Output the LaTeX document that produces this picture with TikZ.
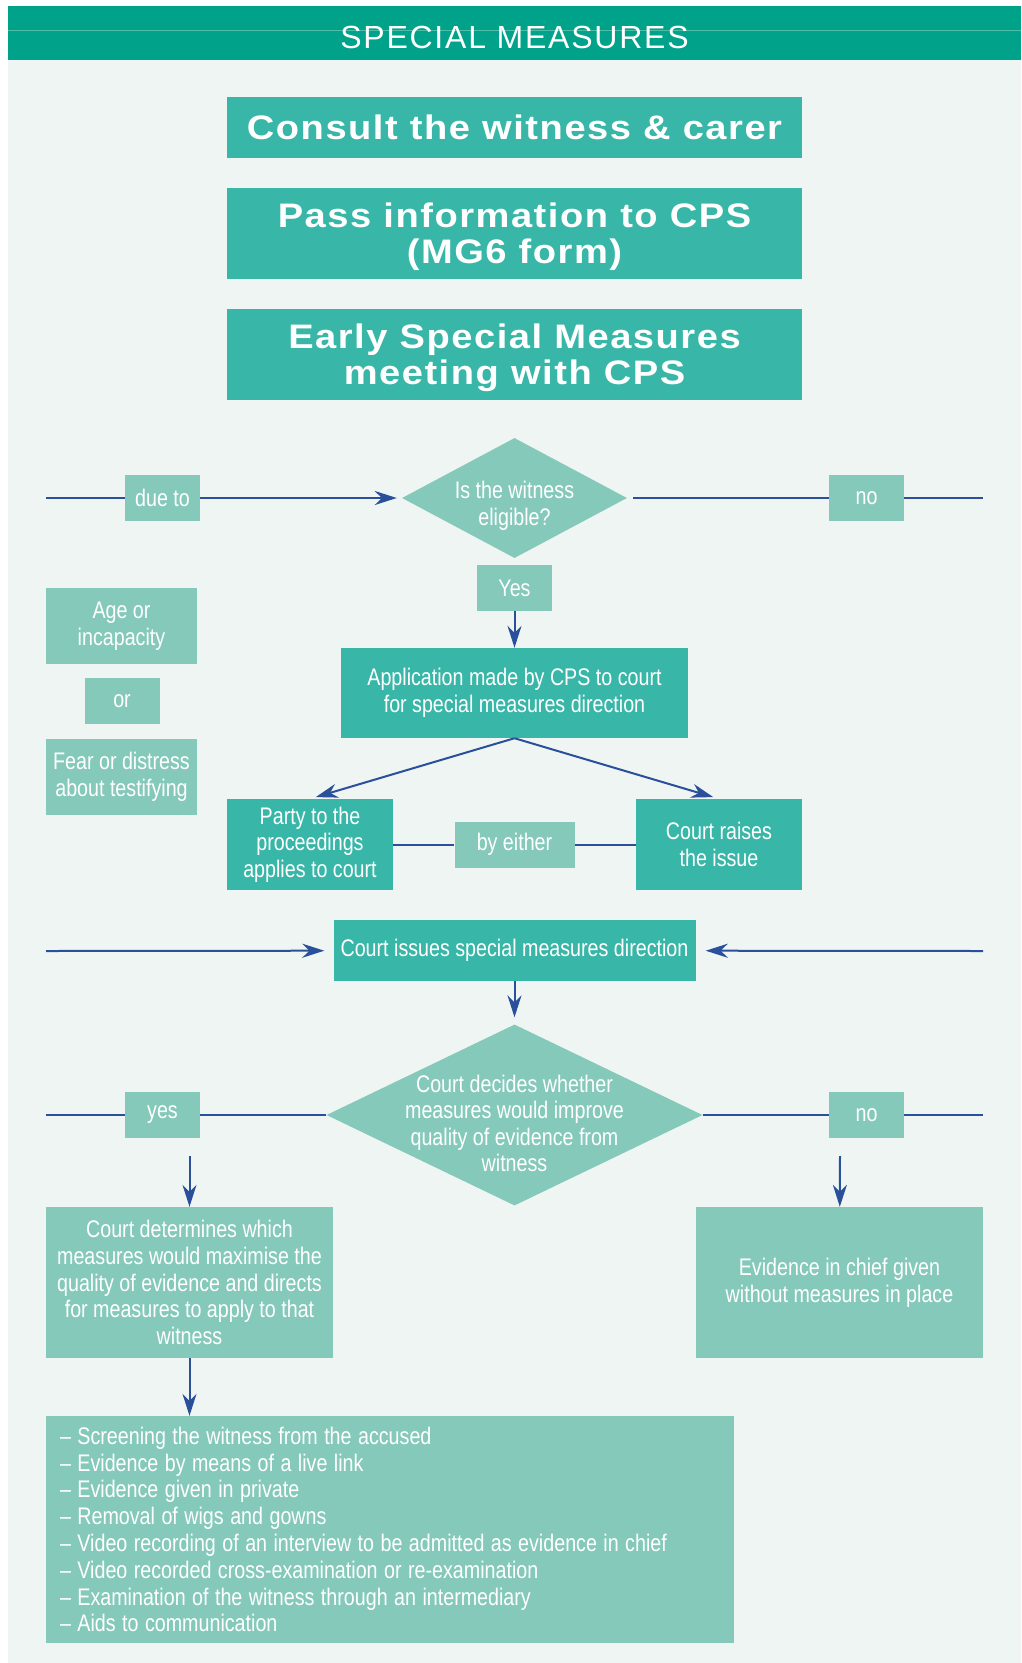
\documentclass[tikz,border=0pt]{standalone}
\usepackage{fontspec}
\setmainfont{Liberation Sans}[FakeStretch=0.82]
\newfontfamily\widefont{Liberation Sans}[FakeStretch=1.12,LetterSpace=4.5]
\newfontfamily\headfont{Liberation Sans}[LetterSpace=5.5]
\usetikzlibrary{arrows.meta, shapes.geometric}

\definecolor{barcol}{HTML}{00A28A}
\definecolor{barline}{HTML}{4DBFA9}
\definecolor{pagebg}{HTML}{EFF5F2}
\definecolor{boxdark}{HTML}{38B6A7}
\definecolor{boxlight}{HTML}{85C9BB}
\definecolor{linecol}{HTML}{2A4F9B}

\tikzset{
  darkbox/.style={fill=boxdark, text=white, align=center, inner sep=2pt,
    font=\fontsize{24}{26.6}\selectfont},
  lightbox/.style={darkbox, fill=boxlight},
  bigbox/.style={darkbox, minimum width=575pt,
    font=\widefont\bfseries\fontsize{34}{34}\selectfont},
  tagbox/.style={lightbox, minimum width=75pt, minimum height=46pt},
  askbox/.style={lightbox, diamond, inner sep=0pt},
  asktext/.style={text=white, align=center, font=\fontsize{24}{26.6}\selectfont},
  wire/.style={draw=linecol, line width=2pt},
  flow/.style={wire, -{Stealth[length=22pt,width=14pt,inset=7pt]}},
}

\begin{document}
\begin{tikzpicture}[x=1pt, y=-1pt]
\useasboundingbox (0,0) rectangle (1021,1663);
% page and heading
\fill[pagebg] (8,6) rectangle (1021,1663);
\fill[barcol] (8,6) rectangle (1021,60);
\draw[barline, line width=1pt] (8,30) -- (1021,30);
\node[text=white, font=\headfont\fontsize{32}{32}\selectfont] (title) at (514.5,37.5) {SPECIAL MEASURES};

% first steps
\node[bigbox, minimum height=61pt] (consult) at (514.5,127.5) {Consult the witness \& carer};
\node[bigbox, minimum height=91pt] (pass) at (514.5,233.5) {\raisebox{-4.5pt}[\height][\depth]{\begin{tabular}{@{}c@{}}Pass information to CPS\\[1pt](MG6 form)\end{tabular}}};
\node[bigbox, minimum height=91pt] (early) at (514.5,354.5) {\raisebox{-4.5pt}[\height][\depth]{\begin{tabular}{@{}c@{}}Early Special Measures\\[1pt]meeting with CPS\end{tabular}}};

% eligibility
\node[askbox, minimum width=225pt, minimum height=120pt] (elig) at (514.5,498) {};
\node[asktext] (eligtext) at (514.5,505.5) {Is the witness\\eligible?};
\node[tagbox] (dueto) at (162.5,498) {due to};
\node[tagbox] (noA) at (866.5,498) {no};
\node[tagbox] (yesA) at (514.5,588) {Yes};
\node[lightbox, minimum width=151pt, minimum height=76pt] (age) at (121.5,626) {Age or\\incapacity};
\node[tagbox] (or) at (122,701) {or};
\node[lightbox, minimum width=151pt, minimum height=76pt] (fear) at (121.5,777) {Fear or distress\\about testifying};
\coordinate (dueL) at (46,498);
\coordinate (noAR) at (983,498);
\draw[wire] (dueL) -- (dueto);
\draw[flow, shorten >=5pt] (dueto) -- (elig);
\draw[wire, shorten <=6pt] (elig) -- (noA);
\draw[wire] (noA) -- (noAR);

% application
\node[darkbox, minimum width=347pt, minimum height=90pt] (app) at (514.5,693) {Application made by CPS to court\\for special measures direction};
\node[darkbox, minimum width=166pt, minimum height=91pt] (party) at (310,844.5) {Party to the\\proceedings\\applies to court};
\node[darkbox, minimum width=166pt, minimum height=91pt] (raises) at (719,844.5) {Court raises\\the issue};
\node[lightbox, minimum width=120pt, minimum height=46pt] (byeither) at (514.5,844.5) {by either};
\draw[flow] (yesA) -- (app);
\draw[flow, shorten >=6pt] (app.south) -- (party.north);
\draw[flow, shorten >=6pt] (app.south) -- (raises.north);
\draw[wire] (party) -- (byeither) -- (raises);

% direction and decision
\node[darkbox, minimum width=362pt, minimum height=61pt] (issues) at (514.5,950.5) {Court issues special measures direction};
\node[askbox, minimum width=376pt, minimum height=181pt] (decide) at (514.5,1115) {};
\node[asktext] (decidetext) at (514.5,1123.5) {Court decides whether\\measures would improve\\quality of evidence from\\witness};
\node[tagbox] (yesB) at (162.5,1115) {yes};
\node[tagbox] (noB) at (866.5,1115) {no};
\coordinate (issL) at (46,951);
\coordinate (issR) at (983,951);
\coordinate (yesBL) at (46,1115);
\coordinate (noBR) at (983,1115);
\draw[flow, shorten >=9pt] (issL) -- (issues);
\draw[flow, shorten >=10pt] (issR) -- (issues);
\draw[flow, shorten >=7pt] (issues) -- (decide);
\draw[wire] (yesBL) -- (yesB) -- (decide);
\draw[wire] (decide) -- (noB) -- (noBR);

% outcomes
\node[lightbox, minimum width=287pt, minimum height=151pt] (determine) at (189.5,1282.5) {Court determines which\\measures would maximise the\\quality of evidence and directs\\for measures to apply to that\\witness};
\node[lightbox, minimum width=287pt, minimum height=151pt] (chief) at (839.5,1282.5) {Evidence in chief given\\without measures in place};
\node[lightbox, minimum height=227pt, inner xsep=14pt, text width=660pt, align=left,
  font=\fontsize{24}{26.8}\selectfont] (list) at (390,1529.5) {\spaceskip=0.27em \xspaceskip=0.27em
  – Screening the witness from the accused\\
  – Evidence by means of a live link\\
  – Evidence given in private\\
  – Removal of wigs and gowns\\
  – Video recording of an interview to be admitted as evidence in chief\\
  – Video recorded cross-examination or re-examination\\
  – Examination of the witness through an intermediary\\
  – Aids to communication};
\coordinate (detIn) at (189.5,1156);
\coordinate (chiefIn) at (840,1156);
\draw[flow] (detIn) -- (determine);
\draw[flow] (chiefIn) -- (chief);
\draw[flow] (determine.south) -- (determine.south |- list.north);
\end{tikzpicture}
\end{document}
